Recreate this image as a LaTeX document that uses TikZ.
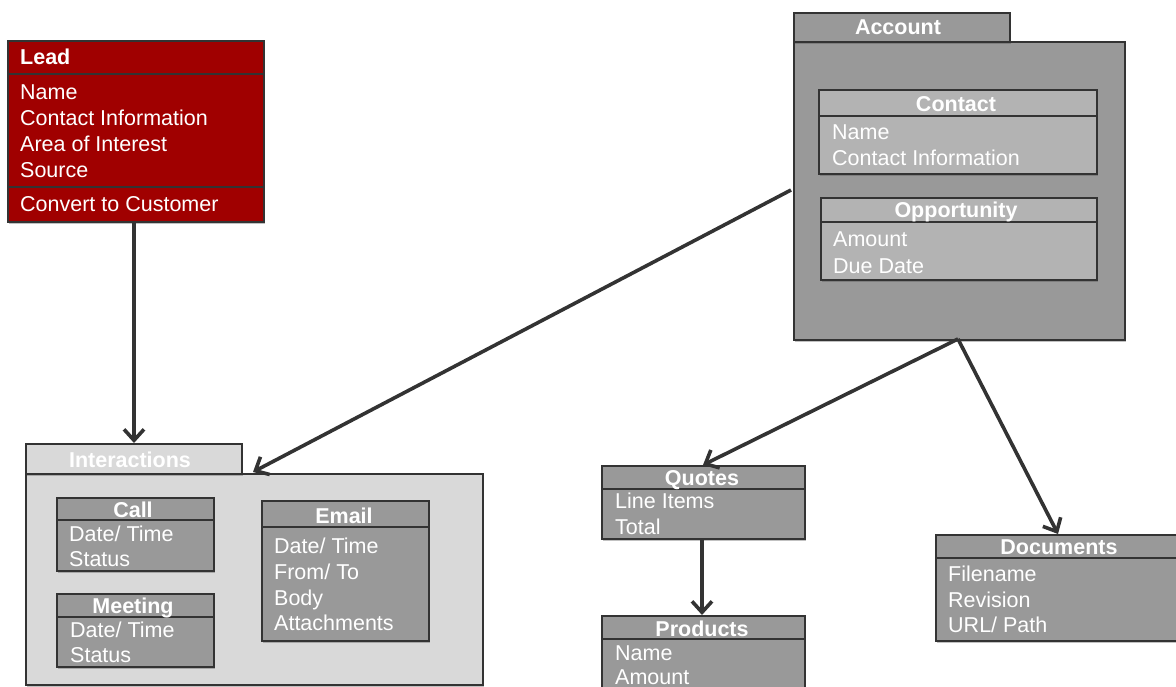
\documentclass[tikz,border=0pt]{standalone}
\usepackage{fontspec}
\setmainfont{Liberation Sans}
\usetikzlibrary{arrows.meta,shadows}
\definecolor{leadred}{HTML}{A00000}
\definecolor{boxgrey}{HTML}{999999}
\definecolor{innergrey}{HTML}{B3B3B3}
\definecolor{panelgrey}{HTML}{D9D9D9}
\definecolor{edge}{HTML}{333333}
\tikzset{
  shadowed/.style={drop shadow={opacity=0.35,shadow xshift=1.5pt,shadow yshift=-2.5pt,fill=black!70}},
  umlbox/.style={draw=edge,line width=1.8pt,anchor=north west,inner sep=0pt,shadowed},
  sepline/.style={draw=edge,line width=1.8pt},
  ttl/.style={text=white,font=\fontsize{21.5}{26}\selectfont\bfseries,anchor=base,inner sep=0pt},
  ttlw/.style={ttl,anchor=base west},
  itm/.style={text=white,font=\fontsize{21.5}{26}\selectfont,anchor=base west,inner sep=0pt},
  conn/.style={draw=edge,line width=3.6pt,-{Straight Barb[length=11pt,width=20pt,line width=3.6pt]}},
}
\begin{document}
\begin{tikzpicture}[x=1pt,y=-1pt]
\useasboundingbox (0,0) rectangle (1176,687);
% ---------- Lead ----------
\node[umlbox,fill=leadred,minimum width=256pt,minimum height=181pt] (lead) at (7,40) {};
\draw[sepline] (7,74) -- (263,74);
\draw[sepline] (7,187) -- (263,187);
\node[ttlw] (leadT) at (20,65) {Lead};
\node[itm] (lead1) at (20,100) {Name};
\node[itm] (lead2) at (20,126) {Contact Information};
\node[itm] (lead3) at (20,152) {Area of Interest};
\node[itm] (lead4) at (20,178) {Source};
\node[itm] (lead5) at (20,212) {Convert to Customer};
% ---------- Account ----------
\node[umlbox,fill=boxgrey,minimum width=331pt,minimum height=298pt] (account) at (793,41) {};
\node[umlbox,fill=boxgrey,minimum width=216pt,minimum height=29pt] (accTab) at (793,12) {};
\node[ttl] (accT) at (898,35) {Account};
% Contact
\node[umlbox,fill=innergrey,minimum width=278pt,minimum height=84pt] (contact) at (818,89) {};
\draw[sepline] (818,116) -- (1096,116);
\node[ttl] (contactT) at (956,112) {Contact};
\node[itm] (contact1) at (832,140) {Name};
\node[itm] (contact2) at (832,166) {Contact Information};
% Opportunity
\node[umlbox,fill=innergrey,minimum width=276pt,minimum height=82pt] (opp) at (820,197) {};
\draw[sepline] (820,222) -- (1096,222);
\node[ttl] (oppT) at (956,218) {Opportunity};
\node[itm] (opp1) at (833,247) {Amount};
\node[itm] (opp2) at (833,273) {Due Date};
% ---------- Interactions ----------
\node[umlbox,fill=panelgrey,minimum width=457pt,minimum height=211pt] (inter) at (25,473) {};
\node[umlbox,fill=panelgrey,minimum width=216pt,minimum height=30pt] (interTab) at (25,443) {};
\node[ttl] (interT) at (130,467) {Interactions};
% Call
\node[umlbox,fill=boxgrey,minimum width=157pt,minimum height=73pt] (call) at (56,497) {};
\draw[sepline] (56,520) -- (213,520);
\node[ttl] (callT) at (133,517) {Call};
\node[itm] (call1) at (69,541) {Date/ Time};
\node[itm] (call2) at (69,566) {Status};
% Meeting
\node[umlbox,fill=boxgrey,minimum width=157pt,minimum height=73pt] (meet) at (56,593) {};
\draw[sepline] (56,617) -- (213,617);
\node[ttl] (meetT) at (133,613) {Meeting};
\node[itm] (meet1) at (70,637) {Date/ Time};
\node[itm] (meet2) at (70,662) {Status};
% Email
\node[umlbox,fill=boxgrey,minimum width=167pt,minimum height=140pt] (email) at (261,500) {};
\draw[sepline] (261,527) -- (428,527);
\node[ttl] (emailT) at (344,523) {Email};
\node[itm] (email1) at (274,553) {Date/ Time};
\node[itm] (email2) at (274,579) {From/ To};
\node[itm] (email3) at (274,605) {Body};
\node[itm] (email4) at (274,630) {Attachments};
% ---------- Quotes ----------
\node[umlbox,fill=boxgrey,minimum width=203pt,minimum height=73pt] (quotes) at (601,465) {};
\draw[sepline] (601,489) -- (804,489);
\node[ttl] (quotesT) at (702,485) {Quotes};
\node[itm] (quotes1) at (615,508) {Line Items};
\node[itm] (quotes2) at (615,534) {Total};
% ---------- Products ----------
\node[umlbox,fill=boxgrey,minimum width=203pt,minimum height=100pt] (products) at (601,615) {};
\draw[sepline] (601,639) -- (804,639);
\node[ttl] (productsT) at (702,636) {Products};
\node[itm] (products1) at (615,660) {Name};
\node[itm] (products2) at (615,684) {Amount};
% ---------- Documents ----------
\node[umlbox,fill=boxgrey,minimum width=250pt,minimum height=106pt] (docs) at (935,534) {};
\draw[sepline] (935,558) -- (1185,558);
\node[ttl] (docsT) at (1059,554) {Documents};
\node[itm] (docs1) at (948,581) {Filename};
\node[itm] (docs2) at (948,607) {Revision};
\node[itm] (docs3) at (948,632) {URL/ Path};
% ---------- Connectors ----------
\coordinate (accLeft) at (791,190);
\coordinate (accBottom) at (958,339);
\coordinate (interIn) at (253,472);
\draw[conn] (lead.south -| 134,0) -- (interTab.north -| 134,0);
\draw[conn] (accLeft) -- (interIn);
\draw[conn] (accBottom) -- (quotes.north -| 703,0);
\draw[conn] (accBottom) -- (docs.north -| 1058,0);
\draw[conn] (quotes.south -| 702,0) -- (products.north -| 702,0);
\end{tikzpicture}
\end{document}
